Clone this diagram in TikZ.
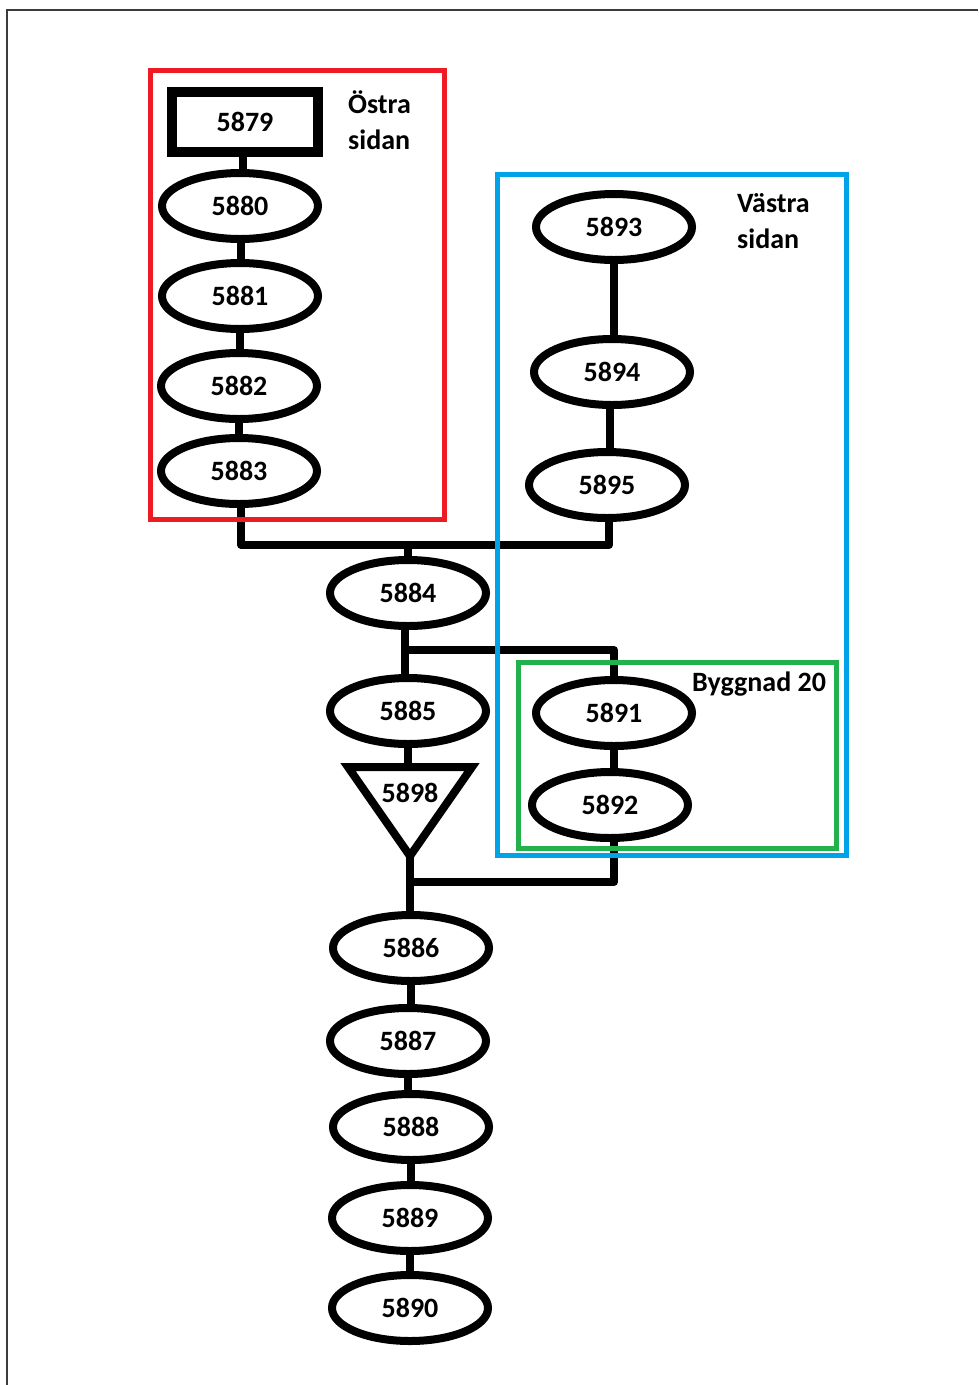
\documentclass[tikz,border=0pt]{standalone}
\usepackage{fontspec}
\setmainfont{Carlito}
\usetikzlibrary{shapes.geometric}
\definecolor{pred}{RGB}{237,28,36}
\definecolor{pblue}{RGB}{0,162,232}
\definecolor{pgreen}{RGB}{34,177,76}
\definecolor{frame}{RGB}{60,60,60}
\begin{document}
\begin{tikzpicture}[x=1pt,y=-1pt,
  txt/.style={font=\fontsize{28}{36}\selectfont\bfseries},
  el/.style={draw,ellipse,line width=8pt,minimum width=156pt,minimum height=66pt,inner sep=0pt,txt},
  sq/.style={draw,rectangle,line width=10pt,minimum width=146pt,minimum height=60pt,inner sep=0pt,txt},
  conn/.style={line width=8pt,line join=round},
  lbl/.style={txt,align=left,inner sep=0pt,anchor=north west},
  grp/.style={line width=5pt}]
\useasboundingbox (0,0) rectangle (978,1385);
\draw[frame,line width=1.5pt] (7,1385) -- (7,10) -- (978,10);

% left column
\node[sq] (n5879) at (245,122) {5879};
\node[el] (n5880) at (240,206) {5880};
\node[el] (n5881) at (240,296) {5881};
\node[el] (n5882) at (239,386) {5882};
\node[el] (n5883) at (239,471) {5883};

% right column
\node[el] (n5893) at (614,227) {5893};
\node[el] (n5894) at (612,372) {5894};
\node[el] (n5895) at (607,485) {5895};

% middle
\node[el] (n5884) at (408,593) {5884};
\node[el] (n5885) at (408,711) {5885};
\node[el] (n5891) at (614,713) {5891};
\node[el] (n5892) at (610,805) {5892};

% triangle
\coordinate (tl) at (348,767);
\coordinate (tr) at (472,767);
\coordinate (tapex) at (410,856);
\coordinate (ttop) at (408,767);
\draw[line width=8pt,line join=miter] (tl) -- (tr) -- (tapex) -- cycle;
\node[txt,inner sep=0pt] (n5898) at (410,793) {5898};

% bottom column
\node[el] (n5886) at (411,948) {5886};
\node[el] (n5887) at (408,1041) {5887};
\node[el] (n5888) at (411,1127) {5888};
\node[el] (n5889) at (410,1218) {5889};
\node[el] (n5890) at (410,1308) {5890};

% connectors
\draw[conn] (n5879.south -| 243,0) -- (n5880.north -| 243,0);
\draw[conn] (n5880.south -| 241,0) -- (n5881.north -| 241,0);
\draw[conn] (n5881.south -| 240,0) -- (n5882.north -| 240,0);
\draw[conn] (n5882.south -| 239,0) -- (n5883.north -| 239,0);
\draw[conn] (n5893.south -| 614,0) -- (n5894.north -| 614,0);
\draw[conn] (n5894.south -| 610,0) -- (n5895.north -| 610,0);
\draw[conn] (n5883.south -| 241,0) -- (241,545) -- (609,545) -- (n5895.south -| 609,0);
\draw[conn] (408,545) -- (n5884.north);
\draw[conn] (n5884.south -| 405,0) -- (n5885.north -| 405,0);
\draw[conn] (405,650) -- (614,650) -- (n5891.north);
\draw[conn] (n5885.south) -- (ttop);
\draw[conn] (n5891.south) -- (n5892.north -| n5891.south);
\draw[conn] (tapex) -- (410,882) -- (614,882) -- (n5892.south -| 614,0);
\draw[conn] (410,880) -- (n5886.north -| 410,0);
\draw[conn] (n5886.south) -- (n5887.north -| n5886.south);
\draw[conn] (n5887.south) -- (n5888.north -| n5887.south);
\draw[conn] (n5888.south) -- (n5889.north -| n5888.south);
\draw[conn] (n5889.south) -- (n5890.north);

% group boxes
\draw[pred,grp] (150,70) rectangle (444,519);
\draw[pblue,grp] (497,174) rectangle (846,855);
\draw[pgreen,grp] (518,662) rectangle (836,848);

% labels
\node[lbl] (lost) at (348,91) {Östra\\sidan};
\node[lbl] (lvast) at (737,193) {Västra\\sidan};
\node[lbl] (lbygg) at (692,672) {Byggnad 20};
\end{tikzpicture}
\end{document}
